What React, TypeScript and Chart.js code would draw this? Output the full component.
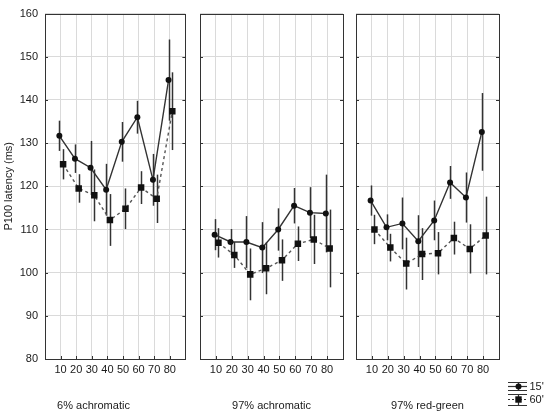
import { useEffect, useRef } from 'react';
import { Chart, registerables } from 'chart.js';

Chart.register(...registerables);

const categories = [10, 20, 30, 40, 50, 60, 70, 80];
const yTickValues = [80, 90, 100, 110, 120, 130, 140, 150, 160];
const seriesLabels = ["15'", "60'"];
const panelTitles = ['6% achromatic', '97% achromatic', '97% red-green'];
const yTitle = 'P100 latency (ms)';

const p1Min15 = [131.7, 126.4, 124.3, 119.2, 130.3, 136.0, 121.5, 144.6];
const p1Err15 = [3.5, 3.3, 6.2, 6.0, 4.6, 3.8, 6.0, 9.4];
const p1Min60 = [125.1, 119.5, 117.9, 112.2, 114.8, 119.7, 117.1, 137.4];
const p1Err60 = [3.5, 3.3, 6.0, 6.0, 4.7, 3.8, 5.6, 9.0];

const p2Min15 = [108.8, 107.1, 107.1, 105.8, 110.0, 115.5, 113.9, 113.7];
const p2Err15 = [3.6, 3.0, 6.0, 5.9, 4.9, 4.1, 5.9, 9.0];
const p2Min60 = [106.9, 104.1, 99.6, 101.0, 102.9, 106.7, 107.7, 105.6];
const p2Err60 = [3.4, 3.0, 6.0, 6.0, 4.8, 4.0, 5.7, 9.0];

const p3Min15 = [116.7, 110.5, 111.4, 107.3, 112.1, 120.9, 117.4, 132.6];
const p3Err15 = [3.5, 3.0, 6.0, 6.0, 4.6, 3.8, 5.8, 9.0];
const p3Min60 = [110.0, 105.8, 102.1, 104.3, 104.5, 108.0, 105.5, 108.6];
const p3Err60 = [3.4, 3.2, 6.0, 6.0, 4.9, 3.8, 5.7, 9.0];

const panelValues = [
  [p1Min15, p1Err15, p1Min60, p1Err60],
  [p2Min15, p2Err15, p2Min60, p2Err60],
  [p3Min15, p3Err15, p3Min60, p3Err60],
];

const FONT = "'Liberation Sans', Arial, sans-serif";
const INK = '#1a1a1a';
const LINE = '#333333';
const GRID = '#dadada';
const OFF15 = -0.8;
const OFF60 = 1.6;

const panels = [
  { left: 0, width: 190, padL: 0, padR: 3, yWidth: 45, showY: true, legend: false },
  { left: 190, width: 160, padL: 10, padR: 7, yWidth: 0, showY: false, legend: false },
  { left: 350, width: 200, padL: 6, padR: 51, yWidth: 0, showY: false, legend: true },
];

const errorBarPlugin = {
  id: 'errorBars',
  beforeDatasetsDraw(chart: any) {
    const ctx = chart.ctx;
    const ys = chart.scales.y;
    ctx.save();
    ctx.strokeStyle = LINE;
    ctx.lineWidth = 1.5;
    chart.data.datasets.forEach((ds: any, di: number) => {
      const meta = chart.getDatasetMeta(di);
      meta.data.forEach((el: any, i: number) => {
        const v = ds.data[i].y;
        const e = ds.errors[i];
        const t = ys.getPixelForValue(v + e);
        const b = ys.getPixelForValue(v - e);
        ctx.beginPath();
        ctx.moveTo(Math.round(el.x) + 0.5, t);
        ctx.lineTo(Math.round(el.x) + 0.5, b);
        ctx.stroke();
      });
    });
    ctx.restore();
  },
};

const boxPlugin = {
  id: 'boxFrame',
  afterDraw(chart: any) {
    const { ctx, chartArea: a } = chart;
    const ys = chart.scales.y;
    const xs = chart.scales.x;
    ctx.save();
    ctx.strokeStyle = LINE;
    ctx.lineWidth = 1;
    ctx.strokeRect(Math.round(a.left) + 0.5, Math.round(a.top) + 0.5, Math.round(a.right - a.left), Math.round(a.bottom - a.top));
    ctx.beginPath();
    yTickValues.forEach((v) => {
      const y = Math.round(ys.getPixelForValue(v)) + 0.5;
      ctx.moveTo(a.left, y);
      ctx.lineTo(a.left + 3, y);
      ctx.moveTo(a.right - 3, y);
      ctx.lineTo(a.right, y);
    });
    categories.forEach((c) => {
      const x = Math.round(xs.getPixelForValue(c)) + 0.5;
      ctx.moveTo(x, a.bottom);
      ctx.lineTo(x, a.bottom - 3);
    });
    ctx.stroke();
    ctx.restore();
  },
};

const legendPlugin = {
  id: 'errLegend',
  afterDraw(chart: any) {
    if (!chart.options.plugins.errLegend?.show) return;
    const ctx = chart.ctx;
    const x0 = 158;
    const x1 = 177;
    const xc = 168.5;
    const rows = [
      { top: 382, mid: 386, bot: 390, dash: [] as number[], shape: 'circle', label: seriesLabels[0] },
      { top: 394, mid: 399, bot: 405, dash: [2, 2], shape: 'rect', label: seriesLabels[1] },
    ];
    ctx.save();
    rows.forEach((r) => {
      ctx.strokeStyle = LINE;
      ctx.lineWidth = 1.2;
      ctx.setLineDash([]);
      ctx.beginPath();
      ctx.moveTo(x0, r.top + 0.5);
      ctx.lineTo(x1, r.top + 0.5);
      ctx.moveTo(x0, r.bot + 0.5);
      ctx.lineTo(x1, r.bot + 0.5);
      ctx.moveTo(xc, r.top);
      ctx.lineTo(xc, r.bot);
      ctx.stroke();
      ctx.setLineDash(r.dash);
      ctx.beginPath();
      ctx.moveTo(x0, r.mid + 0.5);
      ctx.lineTo(x1, r.mid + 0.5);
      ctx.stroke();
      ctx.setLineDash([]);
      ctx.fillStyle = '#111';
      if (r.shape === 'circle') {
        ctx.beginPath();
        ctx.arc(xc, r.mid + 0.5, 3, 0, Math.PI * 2);
        ctx.fill();
      } else {
        ctx.fillRect(xc - 3.2, r.mid + 0.5 - 3.2, 6.4, 6.4);
      }
      ctx.fillStyle = INK;
      ctx.font = `11px ${FONT}`;
      ctx.textAlign = 'left';
      ctx.textBaseline = 'middle';
      ctx.fillText(r.label, 179.5, r.mid + 0.5);
    });
    ctx.restore();
  },
};

function buildChart(canvas: HTMLCanvasElement, index: number) {
  const p = panels[index];
  const [v15, e15, v60, e60] = panelValues[index];
  return new Chart(canvas, {
    type: 'line',
    data: {
      datasets: [
        {
          label: seriesLabels[0],
          data: categories.map((c, i) => ({ x: c + OFF15, y: v15[i] })),
          errors: e15,
          borderColor: LINE,
          borderWidth: 1.4,
          pointStyle: 'circle',
          pointRadius: 3,
          pointBackgroundColor: '#111',
          pointBorderColor: '#111',
          pointBorderWidth: 0,
          fill: false,
          tension: 0,
        } as any,
        {
          label: seriesLabels[1],
          data: categories.map((c, i) => ({ x: c + OFF60, y: v60[i] })),
          errors: e60,
          borderColor: '#555',
          borderWidth: 1.4,
          borderDash: [3, 3],
          pointStyle: 'rect',
          pointRadius: 4.6,
          pointBackgroundColor: '#111',
          pointBorderColor: '#111',
          pointBorderWidth: 0,
          fill: false,
          tension: 0,
        } as any,
      ],
    },
    options: {
      animation: false,
      responsive: false,
      devicePixelRatio: 1,
      events: [],
      layout: { padding: { left: p.padL, right: p.padR, top: 7, bottom: 0 } },
      scales: {
        x: {
          type: 'linear',
          min: 0,
          max: 90,
          afterBuildTicks: (s: any) => {
            s.ticks = categories.map((c) => ({ value: c }));
          },
          afterFit: (s: any) => {
            s.height = 40.8;
          },
          grid: { color: GRID, drawTicks: false, lineWidth: 1 },
          border: { display: false },
          ticks: {
            color: INK,
            font: { family: FONT, size: 11 },
            padding: 4,
            maxRotation: 0,
            autoSkip: false,
          },
        },
        y: {
          type: 'linear',
          min: 80,
          max: 160,
          afterBuildTicks: (s: any) => {
            s.ticks = yTickValues.map((v) => ({ value: v }));
          },
          afterFit: (s: any) => {
            s.width = p.yWidth;
          },
          grid: { color: GRID, drawTicks: false, lineWidth: 1 },
          border: { display: false },
          ticks: {
            display: true,
            color: p.showY ? INK : 'rgba(0,0,0,0)',
            font: { family: FONT, size: 11 },
            padding: 7,
            callback: (v: any) => (p.showY ? String(v) : ''),
          },
          title: {
            display: p.showY,
            text: yTitle,
            color: INK,
            font: { family: FONT, size: 11 },
            padding: { top: 2, bottom: 0 },
          },
        },
      },
      plugins: {
        legend: { display: false },
        tooltip: { enabled: false },
        title: {
          display: true,
          position: 'bottom',
          text: panelTitles[index],
          color: INK,
          font: { family: FONT, size: 11, weight: 'normal' },
          padding: { top: 0, bottom: 2 },
        },
        errLegend: { show: p.legend },
      } as any,
    },
    plugins: [errorBarPlugin, boxPlugin, legendPlugin],
  } as any);
}

function Panel({ index }: { index: number }) {
  const ref = useRef<HTMLCanvasElement | null>(null);
  useEffect(() => {
    if (!ref.current) return;
    const chart = buildChart(ref.current, index);
    return () => chart.destroy();
  }, [index]);
  const p = panels[index];
  return (
    <canvas
      ref={ref}
      width={p.width}
      height={415}
      style={{ position: 'absolute', left: p.left, top: 0, width: p.width, height: 415 }}
    />
  );
}

export default function App() {
  return (
    <div style={{ position: 'absolute', left: 0, top: 0, width: 550, height: 415, background: '#fff' }}>
      <Panel index={0} />
      <Panel index={1} />
      <Panel index={2} />
    </div>
  );
}
